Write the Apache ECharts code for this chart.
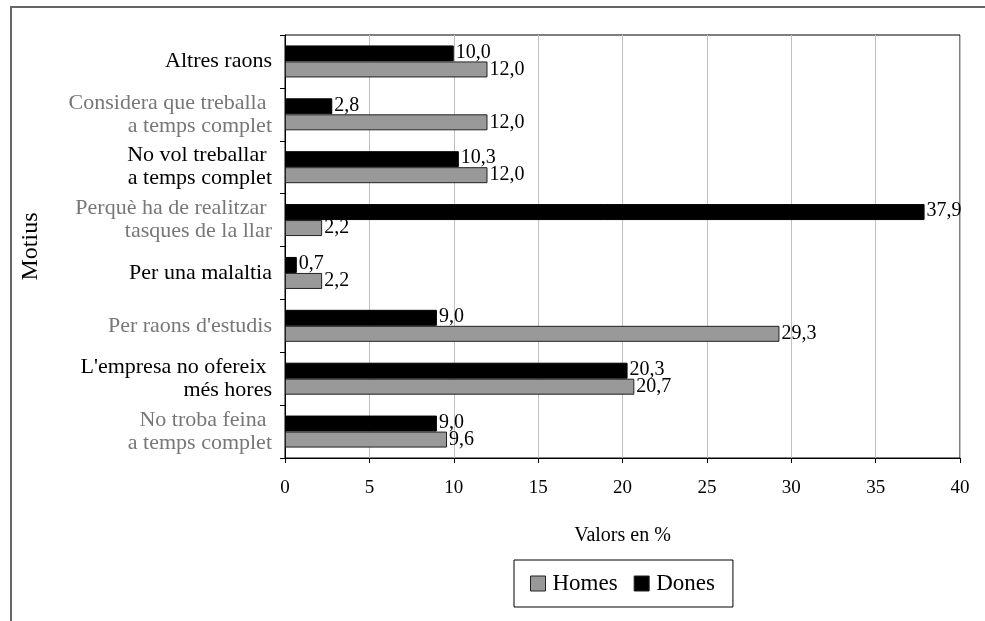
<!DOCTYPE html>
<html>
<head>
<meta charset="utf-8">
<script src="https://cdn.jsdelivr.net/npm/echarts@6/dist/echarts.min.js"></script>
<style>
  html, body { margin: 0; padding: 0; background: #fff; }
  #chart { width: 985px; height: 621px; }
</style>
</head>
<body>
<div id="chart"></div>
<script>
// categories from bottom to top
var motius = [
    'No troba feina \na temps complet',
    "L'empresa no ofereix \nmés hores",
    "Per raons d'estudis",
    'Per una malaltia',
    'Perquè ha de realitzar \ntasques de la llar',
    'No vol treballar \na temps complet',
    'Considera que treballa \na temps complet',
    'Altres raons'
]
var homes = [9.6, 20.7, 29.3, 2.2, 2.2, 12.0, 12.0, 12.0]
var dones = [9.0, 20.3, 9.0, 0.7, 37.9, 10.3, 2.8, 10.0]
// label colours alternate, top one black
var labelColors = ['#777', '#000', '#777', '#000', '#777', '#000', '#777', '#000']

var serif = '"Liberation Serif", "DejaVu Serif", serif'

function valueLabel(p){
    return p.value.toFixed(1).replace('.', ',')
}

var chart = echarts.init(document.getElementById('chart'))
chart.setOption({
    animation: false,
    textStyle: { fontFamily: serif },
    graphic: [
        {
            type: 'rect',
            shape: { x: 11, y: 7, width: 1200, height: 900 },
            style: { fill: 'none', stroke: '#666', lineWidth: 2 }
        }
    ],
    grid: {
        left: 285,
        right: 25,
        top: 35,
        bottom: 163,
        show: true,
        borderColor: '#000',
        borderWidth: 1
    },
    legend: {
        data: ['Homes', 'Dones'],
        left: 514,
        top: 560,
        padding: [12, 18, 12, 16],
        borderColor: '#000',
        borderWidth: 1,
        icon: 'rect',
        itemWidth: 15,
        itemHeight: 15,
        itemGap: 16,
        itemStyle: { borderColor: '#222', borderWidth: 1 },
        textStyle: { fontFamily: serif, fontSize: 23, color: '#000', padding: [0, 0, 0, 2] }
    },
    xAxis: {
        type: 'value',
        min: 0,
        max: 40,
        interval: 5,
        name: 'Valors en %',
        nameLocation: 'middle',
        nameGap: 68,
        nameTextStyle: { fontFamily: serif, fontSize: 20, color: '#000' },
        axisLine: { show: true, lineStyle: { color: '#000' } },
        axisTick: { show: true, length: 5, lineStyle: { color: '#000' } },
        axisLabel: { margin: 21, fontSize: 19, color: '#000', fontFamily: serif },
        splitLine: { show: true, lineStyle: { color: '#c0c0c0' } }
    },
    yAxis: {
        type: 'category',
        data: motius,
        name: 'Motius',
        nameLocation: 'middle',
        nameRotate: 90,
        nameGap: 242,
        nameTextStyle: { fontFamily: serif, fontSize: 24, color: '#000' },
        axisLine: { show: true, lineStyle: { color: '#000' } },
        axisTick: { show: true, length: 5, lineStyle: { color: '#000' } },
        axisLabel: {
            margin: 13,
            fontSize: 22,
            lineHeight: 23,
            fontFamily: serif,
            align: 'right',
            color: function(value, index){
                return labelColors[index]
            }
        }
    },
    series: [
        // Dones first so it sits on top in each band
        {
            name: 'Dones',
            type: 'bar',
            data: dones,
            barWidth: 16,
            barGap: '0%',
            itemStyle: { color: '#000', borderColor: '#000', borderWidth: 1 },
            label: {
                show: true,
                position: 'right',
                distance: 2,
                offset: [0, -1],
                formatter: valueLabel,
                fontSize: 20,
                color: '#000',
                fontFamily: serif
            }
        },
        {
            name: 'Homes',
            type: 'bar',
            data: homes,
            barWidth: 16,
            barGap: '0%',
            itemStyle: { color: '#999999', borderColor: '#222', borderWidth: 1 },
            label: {
                show: true,
                position: 'right',
                distance: 2,
                formatter: valueLabel,
                fontSize: 20,
                color: '#000',
                fontFamily: serif
            }
        }
    ]
})
</script>
</body>
</html>
